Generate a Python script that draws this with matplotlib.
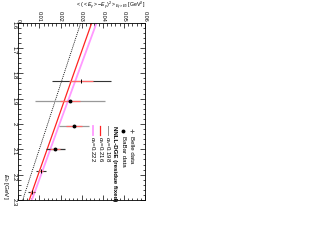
import matplotlib
matplotlib.use("Agg")
import matplotlib.pyplot as plt
from matplotlib.ticker import MultipleLocator

plt.rcParams['font.family'] = ['Liberation Sans', 'DejaVu Sans']
plt.rcParams['mathtext.fontset'] = 'custom'
plt.rcParams['mathtext.rm'] = 'Liberation Sans'
plt.rcParams['mathtext.it'] = 'Liberation Sans:italic'

# ---- data ----
E0_curve = [1.6, 1.8, 2.0, 2.2, 2.3]
var_a198 = [0.0296, 0.0217, 0.0139, 0.0060, 0.0021]
var_a216 = [0.0348, 0.0263, 0.0179, 0.0094, 0.0052]
var_a222 = [0.0371, 0.0283, 0.0195, 0.0108, 0.0064]

E0_belle = [1.83, 2.185, 2.267]
var_belle = [0.0299, 0.0106, 0.0064]
tot_belle = [0.0140, 0.0024, 0.0016]
stat_belle = [0.0057, 0.0012, 0.0008]

E0_babar = [1.909, 2.008, 2.100]
var_babar = [0.0245, 0.0264, 0.0174]
tot_babar = [0.0165, 0.0071, 0.0045]
stat_babar = [0.0047, 0.0036, 0.0024]
outer_col_babar = ['#999999', '#999999', '#333333']

val_ticks = [0, 0.01, 0.02, 0.03, 0.04, 0.05, 0.06]
val_ticklabels = ['0', '0.01', '0.02', '0.03', '0.04', '0.05', '0.06']
E0_ticks = [1.6, 1.7, 1.8, 1.9, 2.0, 2.1, 2.2, 2.3]
E0_ticklabels = ['1.6', '1.7', '1.8', '1.9', '2', '2.1', '2.2', '2.3']

fig = plt.figure(figsize=(3.12, 2.41), dpi=100)
ax = fig.add_axes([18.3/312, 1-200/241, (145-18.3)/312, (200-22.7)/241])

fs = 4.3
lfs = 4.4
ax.plot(var_a198, E0_curve, color='black', ls=(0, (1.2, 1.2)), lw=0.6)
ax.plot(var_a222, E0_curve, color='#ff99ff', lw=1.3)
ax.plot(var_a216, E0_curve, color='#ff2222', lw=0.9)

# Belle
for e, v, t, s in zip(E0_belle, var_belle, tot_belle, stat_belle):
    ax.errorbar([v], [e], xerr=[t], fmt='none', ecolor='#333333', elinewidth=0.8, capsize=0)
    ax.errorbar([v], [e], xerr=[s], fmt='none', ecolor='#ff6666', elinewidth=0.9, capsize=0)
    ax.plot([v], [e], marker='|', ms=3, mew=0.7, color='black', ls='none')
# BaBar
for e, v, t, s, c in zip(E0_babar, var_babar, tot_babar, stat_babar, outer_col_babar):
    ax.errorbar([v], [e], xerr=[t], fmt='none', ecolor=c, elinewidth=0.9, capsize=0)
    ax.errorbar([v], [e], xerr=[s], fmt='none', ecolor='#ff6666', elinewidth=0.9, capsize=0)
    ax.plot([v], [e], marker='o', ms=1.8, color='black', ls='none')

ax.set_xlim(0, 0.06)
ax.set_ylim(2.3, 1.6)
ax.set_xticks(val_ticks)
ax.set_xticklabels(val_ticklabels)
ax.set_yticks(E0_ticks)
ax.set_yticklabels(E0_ticklabels)
ax.xaxis.set_minor_locator(MultipleLocator(0.002))
ax.yaxis.set_minor_locator(MultipleLocator(0.02))
ax.tick_params(which='both', direction='in', top=True, bottom=True, left=True, right=True,
               labeltop=True, labelbottom=False, width=0.5, labelsize=fs, pad=1.5)
ax.tick_params(axis='x', pad=0.6, labelsize=3.9)
ax.tick_params(which='major', length=3.5)
ax.tick_params(which='minor', length=1.8)
ax.tick_params(axis='x', labelrotation=-90)
ax.tick_params(axis='y', labelrotation=-90)
for sp in ax.spines.values():
    sp.set_linewidth(0.6)

# axis titles (rotated layout)
fig.text(145/312, 1 - 0.1/241, r'$<(<E_\gamma>-E_\gamma)^2>_{E_\gamma>E_0}$ [GeV$^2$]',
         ha='right', va='top', fontsize=3.8)
ax.text(-0.1, 0.0, r'$E_0$ [GeV]', transform=ax.transAxes, rotation=-90,
        ha='center', va='bottom', fontsize=4.6)

# legend (manual, rotated)
def px2ax(x, y):
    return ((x - 18.3) / (145 - 18.3), (200 - y) / (200 - 22.7))

tr = ax.transAxes
lx, ly = px2ax(131.5, 131)
ax.plot([lx], [ly], marker='+', ms=3, mew=0.6, color='#555555', transform=tr, clip_on=False)
tx, ty = px2ax(131.5, 136)
ax.text(tx, ty, 'Belle data', transform=tr, rotation=-90, ha='center', va='top', fontsize=lfs)
lx, ly = px2ax(123, 131)
ax.plot([lx], [ly], marker='o', ms=1.8, color='black', transform=tr, clip_on=False)
tx, ty = px2ax(123, 136)
ax.text(tx, ty, 'BaBar data', transform=tr, rotation=-90, ha='center', va='top', fontsize=lfs)
tx, ty = px2ax(115, 126)
ax.text(tx, ty, 'NNLL-DGE (residue fixed)', transform=tr, rotation=-90, ha='center', va='top',
        fontsize=lfs, fontweight='bold')
for xp, lab, sty in [(107.5, r'$\alpha_s$=0.198', dict(color='black', ls=(0, (1.2, 1.2)), lw=0.6)),
                     (100, r'$\alpha_s$=0.216', dict(color='#ff2222', lw=0.9)),
                     (92.5, r'$\alpha_s$=0.222', dict(color='#ff99ff', lw=1.3))]:
    x0, y0 = px2ax(xp, 126)
    x1, y1 = px2ax(xp, 135)
    ax.plot([x0, x1], [y0, y1], transform=tr, clip_on=False, **sty)
    tx, ty = px2ax(xp, 136.5)
    ax.text(tx, ty, lab, transform=tr, rotation=-90, ha='center', va='top', fontsize=lfs)

fig.savefig('out.png', dpi=100)
